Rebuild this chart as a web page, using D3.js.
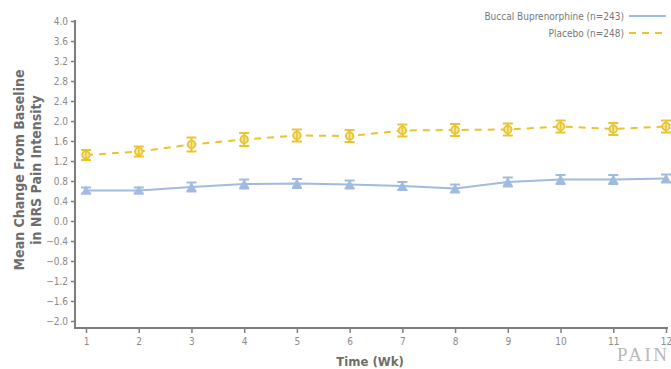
<!DOCTYPE html>
<html lang="en">
<head>
  <meta charset="UTF-8">
  <title>NRS Pain Intensity</title>
  <script src="https://d3js.org/d3.v7.min.js"></script>
  <style>
    body { margin: 0; background: #fff; }
    .tick text { font-family: "Liberation Sans Narrow", "DejaVu Sans Condensed", sans-serif; font-size: 10px; fill: #8a8a8a; }
    .axis-title { font-family: "Liberation Sans Narrow", "DejaVu Sans Condensed", sans-serif; font-weight: bold; fill: #6d6d6d; }
    .legend text { font-family: "Liberation Sans Narrow", "DejaVu Sans Condensed", sans-serif; font-size: 10px; fill: #777; }
  </style>
</head>
<body>
  <svg width="671" height="369"></svg>

  <script>
    const width = 671, height = 369;
    const svg = d3.select("svg");

    // data
    const weeks = [1, 2, 3, 4, 5, 6, 7, 8, 9, 10, 11, 12];
    const buccalMean = [0.61, 0.61, 0.68, 0.74, 0.75, 0.73, 0.70, 0.65, 0.78, 0.83, 0.83, 0.85];
    const buccalErr  = [0.06, 0.06, 0.09, 0.09, 0.09, 0.08, 0.08, 0.08, 0.09, 0.09, 0.09, 0.08];
    const placeboMean = [1.32, 1.39, 1.53, 1.63, 1.71, 1.70, 1.81, 1.82, 1.83, 1.89, 1.84, 1.89];
    const placeboErr  = [0.10, 0.10, 0.14, 0.13, 0.12, 0.12, 0.12, 0.12, 0.12, 0.12, 0.12, 0.12];
    const yTicks = d3.range(-2.0, 4.01, 0.4);

    const blue = "#a0bbe0", yellow = "#e8c430", axisCol = "#7d7d7d";

    const x = d3.scaleLinear().domain([1, 12]).range([86, 666]);
    const y = d3.scaleLinear().domain([-2, 4]).range([321, 21]);

    // y axis
    const yAxis = svg.append("g")
      .attr("transform", "translate(75,0)")
      .call(d3.axisLeft(y).tickValues(yTicks).tickSize(4).tickPadding(3)
        .tickFormat(d => d3.format(".1f")(d).replace("-", "\u2212")));
    yAxis.select(".domain").remove();
    yAxis.selectAll(".tick line").attr("stroke", axisCol).attr("stroke-width", 1.5);
    svg.append("line").attr("x1", 75).attr("x2", 75).attr("y1", 20).attr("y2", 328)
      .attr("stroke", axisCol).attr("stroke-width", 2);

    // x axis
    const xAxis = svg.append("g")
      .attr("transform", "translate(0,328)")
      .call(d3.axisBottom(x).tickValues(weeks).tickSize(5).tickPadding(5));
    xAxis.select(".domain").remove();
    xAxis.selectAll(".tick line").attr("stroke", axisCol).attr("stroke-width", 1.5);
    svg.append("line").attr("x1", 74).attr("x2", 668).attr("y1", 328).attr("y2", 328)
      .attr("stroke", axisCol).attr("stroke-width", 2);

    // axis titles
    svg.append("text").attr("class", "axis-title")
      .attr("x", 370).attr("y", 366).attr("text-anchor", "middle")
      .style("font-size", "13px").text("Time (Wk)");
    const yt = svg.append("text").attr("class", "axis-title")
      .attr("transform", "translate(24,170) rotate(-90)")
      .attr("text-anchor", "middle").style("font-size", "14px");
    yt.append("tspan").attr("x", 0).attr("y", 0).text("Mean Change From Baseline");
    yt.append("tspan").attr("x", 0).attr("y", 17).text("in NRS Pain Intensity");

    // series
    const series = [
      { mean: buccalMean, err: buccalErr, color: blue, dash: null, marker: "tri" },
      { mean: placeboMean, err: placeboErr, color: yellow, dash: "7,6", marker: "circ" }
    ];

    series.forEach(s => {
      const pts = weeks.map((w, i) => ({ w, m: s.mean[i], e: s.err[i] }));
      svg.append("path")
        .datum(pts)
        .attr("fill", "none")
        .attr("stroke", s.color)
        .attr("stroke-width", 2)
        .attr("stroke-dasharray", s.dash)
        .attr("d", d3.line().x(d => x(d.w)).y(d => y(d.m)));

      const g = svg.append("g").selectAll("g").data(pts).enter().append("g")
        .attr("transform", d => `translate(${x(d.w)},0)`);
      g.append("line").attr("x1", 0).attr("x2", 0)
        .attr("y1", d => y(d.m + d.e)).attr("y2", d => y(d.m - d.e))
        .attr("stroke", s.color).attr("stroke-width", 2);
      g.append("line").attr("x1", -5).attr("x2", 5)
        .attr("y1", d => y(d.m + d.e)).attr("y2", d => y(d.m + d.e))
        .attr("stroke", s.color).attr("stroke-width", 2);
      g.append("line").attr("x1", -5).attr("x2", 5)
        .attr("y1", d => y(d.m - d.e)).attr("y2", d => y(d.m - d.e))
        .attr("stroke", s.color).attr("stroke-width", 2);
      if (s.marker === "tri") {
        g.append("path")
          .attr("d", d => `M${-5},${y(d.m) + 4}L5,${y(d.m) + 4}L0,${y(d.m) - 5}Z`)
          .attr("fill", s.color);
      } else {
        g.append("circle").attr("cy", d => y(d.m)).attr("r", 3.8)
          .attr("fill", "#f6e59a").attr("stroke", s.color).attr("stroke-width", 1.8);
        g.append("line").attr("x1", 0).attr("x2", 0)
          .attr("y1", d => y(d.m) - 3).attr("y2", d => y(d.m) + 3)
          .attr("stroke", s.color).attr("stroke-width", 1.5);
      }
    });

    // legend
    const legend = svg.append("g").attr("class", "legend");
    const legendItems = [
      { label: "Buccal Buprenorphine (n=243)", color: blue, dash: null, yy: 16 },
      { label: "Placebo (n=248)", color: yellow, dash: "7,6", yy: 33 }
    ];
    legendItems.forEach(d => {
      legend.append("text").attr("x", 624).attr("y", d.yy + 4)
        .attr("text-anchor", "end").text(d.label);
      legend.append("line").attr("x1", 629).attr("x2", 666)
        .attr("y1", d.yy).attr("y2", d.yy)
        .attr("stroke", d.color).attr("stroke-width", 2)
        .attr("stroke-dasharray", d.dash);
    });

    // watermark
    svg.append("text").attr("x", 617).attr("y", 361)
      .style("font-family", "Liberation Serif, serif").style("font-size", "19px")
      .style("letter-spacing", "2.5px")
      .style("fill", "#b8b8b8").text("PAIN");
  </script>
</body>
</html>
